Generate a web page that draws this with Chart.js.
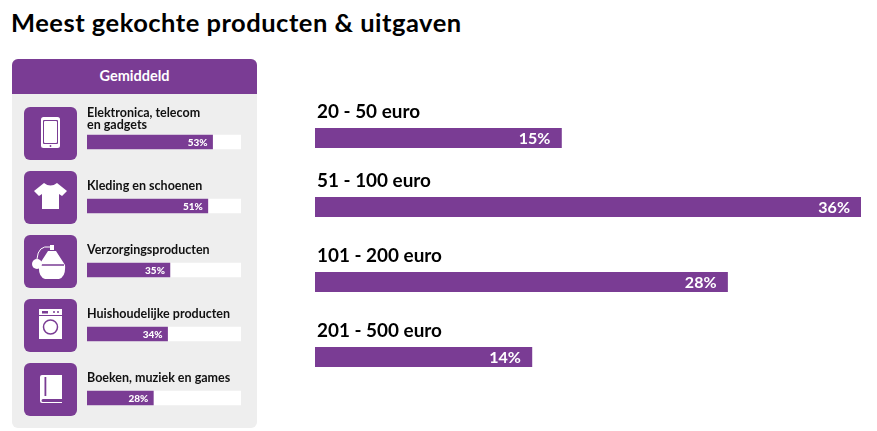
<!DOCTYPE html>
<html lang="nl">
<head>
<meta charset="utf-8">
<title>Meest gekochte producten & uitgaven</title>
<script src="https://cdn.jsdelivr.net/npm/chart.js@4"></script>
<style>
  html, body { margin: 0; padding: 0; background: #fff; }
  body { width: 877px; height: 431px; position: relative; overflow: hidden; font-family: Lato, sans-serif; }
  h1 { position: absolute; left: 11px; top: 6px; margin: 0; font: 700 25.5px/32px Lato, sans-serif; letter-spacing: 0.5px; color: #000; }
  #panel { position: absolute; left: 12px; top: 59px; width: 245px; height: 369px; background: #eee; border-radius: 6px; }
  #panelHead { position: absolute; left: 12px; top: 59px; width: 245px; height: 35px; background: #7a3c94; border-radius: 6px 6px 0 0;
    color: #fff; font: 700 14.5px/34px Lato, sans-serif; text-align: center; }
  canvas { position: absolute; }
  .icon { position: absolute; left: 24px; width: 53px; height: 53px; background: #7a3c94; border-radius: 6px; }
  .icon svg { display: block; }
</style>
</head>
<body>
<h1>Meest gekochte producten &amp; uitgaven</h1>
<div id="panel"></div>
<div id="panelHead">Gemiddeld</div>

<div class="icon" style="top:107px"><svg width="53" height="53" viewBox="0 0 53 53">
  <rect x="17" y="10" width="19" height="31" rx="2.5" fill="#fff"/><rect x="19" y="13" width="15" height="24" rx="1" fill="#7a3c94"/><rect x="20" y="14" width="13" height="22" rx="1" fill="#fff"/>
  <circle cx="26.5" cy="39" r="0.9" fill="#7a3c94"/>
</svg></div>
<div class="icon" style="top:171px"><svg width="53" height="53" viewBox="0 0 53 53">
  <path d="M20 12 Q26.5 17 33 12 L43 20 L38 25 L35 23 V38 H18 V23 L15 25 L10 20 Z" fill="#fff"/>
</svg></div>
<div class="icon" style="top:235px"><svg width="53" height="53" viewBox="0 0 53 53">
  <path d="M26 10 h4 v5 h-4z M24 16 h8 l9 14 q1 12 -6 14 h-14 q-7 -2 -6 -14z" fill="#fff"/>
  <path d="M17 30 h23" stroke="#7a3c94" stroke-width="1.5"/>
  <path d="M26 12 Q14 10 13 24" fill="none" stroke="#fff" stroke-width="1"/><circle cx="13" cy="29" r="5" fill="#fff"/>
</svg></div>
<div class="icon" style="top:299px"><svg width="53" height="53" viewBox="0 0 53 53">
  <rect x="15" y="10" width="23" height="30" fill="#fff"/><path d="M15 16.5 h23" stroke="#7a3c94" stroke-width="1"/>
  <rect x="18" y="12" width="6" height="2.5" fill="#7a3c94"/><circle cx="30" cy="13" r="1" fill="#7a3c94"/><circle cx="34" cy="13" r="1" fill="#7a3c94"/>
  <circle cx="26.5" cy="28" r="7" fill="#fff" stroke="#7a3c94" stroke-width="1.5"/>
</svg></div>
<div class="icon" style="top:363px"><svg width="53" height="53" viewBox="0 0 53 53">
  <path d="M16 14 a2 2 0 0 1 2 -2 H38 V36 H19 a1.5 1.5 0 0 0 0 3 H38 V40 H18 a2 2 0 0 1 -2 -2Z" fill="#fff"/>
  <rect x="20.5" y="14" width="1.8" height="19" fill="#7a3c94"/>
</svg></div>

<canvas id="avgChart" width="154" height="336" style="left:87px;top:94px"></canvas>
<canvas id="spend0" width="546" height="48" style="left:315px;top:100px"></canvas>
<canvas id="spend1" width="546" height="48" style="left:315px;top:169px"></canvas>
<canvas id="spend2" width="546" height="48" style="left:315px;top:244px"></canvas>
<canvas id="spend3" width="546" height="48" style="left:315px;top:319px"></canvas>

<script>
var purple = "#7a3c94";

// linkerpaneel
var productCategories = [["Elektronica, telecom", "en gadgets"], ["Kleding en schoenen"], ["Verzorgingsproducten"], ["Huishoudelijke producten"], ["Boeken, muziek en games"]];
var productValues = [53, 51, 35, 34, 28];
var productTrack = [65, 65, 65, 65, 65];

// rechts: de balken in het origineel lopen niet gelijk met hun percentages,
// dus lengte (afgelezen) en label staan apart
var spendCategories = ["20 - 50 euro", "51 - 100 euro", "101 - 200 euro", "201 - 500 euro"];
var spendLabels = [15, 36, 28, 14];
var spendBarLengths = [16.25, 36, 27.2, 14.3];

var avgLabels = {
  id: "avgLabels",
  afterDatasetsDraw: function (chart) {
    var c = chart.ctx;
    var bars = chart.getDatasetMeta(1).data;
    c.save();
    bars.forEach(function (bar, i) {
      var top = bar.y - 7;
      var lines = productCategories[i];
      c.fillStyle = "#111";
      c.font = "700 12.5px Lato, sans-serif";
      c.textAlign = "left";
      c.textBaseline = "alphabetic";
      lines.forEach(function (line, n) {
        var offset = lines.length > 1 ? 6 + (lines.length - 1 - n) * 12 : 9;
        c.fillText(line, 0, top - offset);
      });
      c.fillStyle = "#fff";
      c.font = "900 10px Lato, sans-serif";
      c.textAlign = "right";
      c.textBaseline = "middle";
      c.fillText(productValues[i] + "%", bar.x - 5, bar.y + 0.5);
    });
    c.restore();
  }
};

new Chart(document.getElementById("avgChart"), {
  type: "bar",
  data: {
    labels: productCategories.map(function (l) { return l.join(" "); }),
    datasets: [
      { data: productTrack, backgroundColor: "#fff", order: 2, barThickness: 14, grouped: false },
      { data: productValues, backgroundColor: purple, order: 1, barThickness: 14, grouped: false }
    ]
  },
  options: {
    indexAxis: "y",
    responsive: false,
    animation: false,
    layout: { padding: { top: 16 } },
    plugins: { legend: { display: false }, tooltip: { enabled: false } },
    scales: {
      x: { display: false, min: 0, max: 65 },
      y: { display: false }
    }
  },
  plugins: [avgLabels]
});

var spendText = {
  id: "spendText",
  afterDatasetsDraw: function (chart) {
    var c = chart.ctx;
    var i = chart.options.plugins.spendText.index;
    var bar = chart.getDatasetMeta(0).data[0];
    c.save();
    c.fillStyle = "#000";
    c.font = "700 18.9px Lato, sans-serif";
    c.textAlign = "left";
    c.textBaseline = "alphabetic";
    c.fillText(spendCategories[i], 2, bar.y - 20.5);
    c.fillStyle = "#fff";
    c.font = "700 16px Lato, sans-serif";
    c.textAlign = "right";
    c.textBaseline = "middle";
    c.fillText(spendLabels[i] + "%", bar.x - 11, bar.y + 0.5);
    c.restore();
  }
};

// elke rij een eigen canvas: de rijen staan niet op gelijke afstand
spendCategories.forEach(function (cat, i) {
  new Chart(document.getElementById("spend" + i), {
    type: "bar",
    data: {
      labels: [cat],
      datasets: [{ data: [spendBarLengths[i]], backgroundColor: purple, barThickness: 20 }]
    },
    options: {
      indexAxis: "y",
      responsive: false,
      animation: false,
      layout: { padding: { top: 28 } },
      plugins: { legend: { display: false }, tooltip: { enabled: false }, spendText: { index: i } },
      scales: {
        x: { display: false, min: 0, max: 36 },
        y: { display: false }
      }
    },
    plugins: [spendText]
  });
});
</script>
</body>
</html>
